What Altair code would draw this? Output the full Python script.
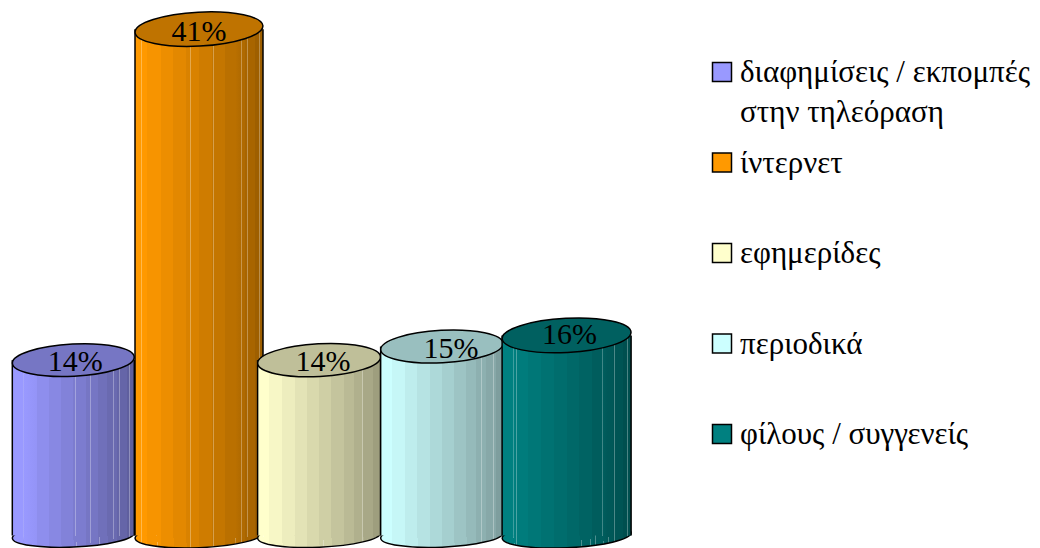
import altair as alt
import pandas as pd

categories = ["διαφημίσεις / εκπομπές|στην τηλεόραση", "ίντερνετ", "εφημερίδες", "περιοδικά", "φίλους / συγγενείς"]
values = [14.2, 41.0, 14.2, 15.3, 16.2]
base_rgb = [(153, 153, 255), (255, 153, 0), (255, 255, 204), (204, 255, 255), (0, 128, 128)]
top_fill = ["#7676c4", "#bf7300", "#bfbf99", "#99bfbf", "#006060"]
legend_fill = ["#9999ff", "#ff9900", "#ffffcc", "#ccffff", "#008080"]
widths = [122, 128, 123, 122.5, 129]
nudge = [-0.2, 2.1, -1.2, -1.8, -0.5]
label_dx = [2, 0, 4, 9, 3]
label_dy = [2, 3, 2, 2, 0]
shine = [
    [0.09, 0.52, 0.64, 0.71, 0.83, 0.88, 0.96],
    [0.05, 0.17, 0.43, 0.61, 0.78, 0.83, 0.88, 0.97],
    [0.05, 0.53, 0.85],
    [0.05, 0.82, 0.92],
    [0.09, 0.11, 0.61, 0.68, 0.72, 0.78, 0.82, 0.87, 0.92, 0.97],
]
band_edges = [0.0, 0.09, 0.20, 0.30, 0.40, 0.50, 0.60, 0.70, 0.78, 0.86, 0.94, 1.0]
band_shade = [1.0, 0.97, 0.93, 0.89, 0.85, 0.81, 0.77, 0.73, 0.69, 0.66, 0.62]

RATIO = 0.265
BOTTOM_RATIO = 0.19
ELLIPSE = f"M-1,0A1,{RATIO},0,1,1,1,0A1,{RATIO},0,1,1,-1,0Z"
BOTTOM = f"M-1,0A1,{BOTTOM_RATIO},0,1,1,1,0A1,{BOTTOM_RATIO},0,1,1,-1,0Z"
FONT = "Liberation Serif"
INK = "#000000"


def hexcol(rgb, f, lift=0.0):
    out = []
    for c in rgb:
        v = c * f
        v = v + (255 - v) * lift
        out.append(int(round(v)))
    return "#%02x%02x%02x" % tuple(out)


def gradient(i):
    rgb = base_rgb[i]
    marks = []
    for k, f in enumerate(band_shade):
        marks.append((band_edges[k], band_edges[k + 1], hexcol(rgb, f)))
    stops = []
    for a, b, col in marks:
        stops.append(alt.GradientStop(offset=a, color=col))
        stops.append(alt.GradientStop(offset=b, color=col))
    pts = []
    for s in shine[i]:
        k = next(j for j, m in enumerate(marks) if m[0] <= s <= m[1])
        pts.append((s, hexcol(rgb, band_shade[k], 0.3), marks[k][2]))
    merged = [(st.offset, st.color) for st in stops]
    for s, light, col in pts:
        merged += [(s - 0.002, col), (s - 0.002, light), (s + 0.004, light), (s + 0.004, col)]
    merged.sort(key=lambda p: p[0])
    return alt.LinearGradient(
        gradient="linear", x1=0, x2=1, y1=0, y2=0,
        stops=[alt.GradientStop(offset=max(0, min(1, o)), color=c) for o, c in merged],
    )


df = pd.DataFrame({"cat": categories, "value": values, "base": [0] * 5})
df["label"] = [f"{round(v)}%" for v in values]

xscale = alt.Scale(domain=categories, range=[3.8, 620.8], paddingInner=0, paddingOuter=0)
yscale = alt.Scale(domain=[-1.012, 42.713], range=[540, 0], nice=False, zero=False)
rowscale = alt.Scale(domain=categories, range=[64, 426], padding=0)
X = alt.X("cat:N", scale=xscale, axis=None, sort=None)
Yv = alt.Y("value:Q", scale=yscale, axis=None)
Yb = alt.Y("base:Q", scale=yscale, axis=None)

layers = []
for i, cat in enumerate(categories):
    w = widths[i]
    grad = gradient(i)
    one = alt.Chart(df).transform_filter(alt.FieldEqualPredicate(field="cat", equal=cat))
    off = nudge[i]
    layers.append(one.mark_point(shape=BOTTOM, size=w * w, angle=357.5, filled=True, fill=grad, opacity=1,
                                 stroke=INK, strokeWidth=1.5, xOffset=off).encode(x=X, y=Yb))
    layers.append(one.mark_bar(size=w, fill=grad, xOffset=off, stroke=None).encode(
        x=X, y=Yv, y2=alt.Y2("base:Q")))
    for side in (-w / 2, w / 2):
        layers.append(one.mark_rule(color=INK, strokeWidth=1.5, xOffset=off + side).encode(
            x=X, y=Yv, y2=alt.Y2("base:Q")))
    layers.append(one.mark_point(shape=ELLIPSE, size=w * w, angle=357, filled=True, fill=top_fill[i], opacity=1,
                                 stroke=INK, strokeWidth=1.5, xOffset=off).encode(x=X, y=Yv))
    layers.append(one.mark_text(font=FONT, fontSize=30, color=INK, baseline="middle", align="center",
                                xOffset=off + label_dx[i], yOffset=label_dy[i]).encode(
        x=X, y=Yv, text="label:N"))

legend_y = alt.Y("cat:N", scale=rowscale, axis=None, sort=None)
layers.append(alt.Chart(df).mark_square(size=361, opacity=1, stroke=INK, strokeWidth=1.5).encode(
    x=alt.value(714), y=legend_y,
    fill=alt.Fill("cat:N", scale=alt.Scale(domain=categories, range=legend_fill), legend=None)))
layers.append(alt.Chart(df).mark_text(font=FONT, fontSize=31, color=INK, align="left", baseline="alphabetic",
                                      lineBreak="|", lineHeight=40, dy=10).encode(
    x=alt.value(732), y=legend_y, text="cat:N"))

chart = (
    alt.layer(*layers)
    .resolve_scale(x="independent", y="independent")
    .properties(width=1024, height=540, padding=0, autosize=alt.AutoSizeParams(type="none"), background="white")
    .configure_view(stroke=None)
)
chart.save("out.html", embed_options={"renderer": "svg", "actions": False})
